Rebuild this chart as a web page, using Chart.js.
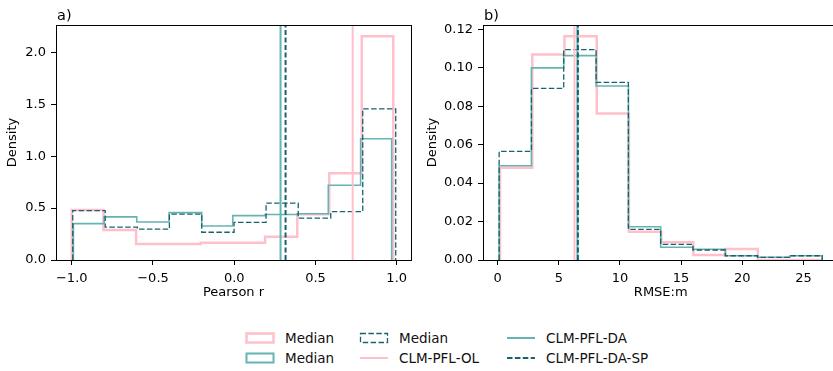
<!DOCTYPE html>
<html>
<head>
<meta charset="utf-8">
<script src="https://cdn.jsdelivr.net/npm/chart.js@4.4.0/dist/chart.umd.min.js"></script>
<style>
  html, body { margin: 0; padding: 0; background: #fff; overflow: hidden; }
  body { width: 833px; height: 371px; position: relative; font-family: "DejaVu Sans", sans-serif; }
  canvas { position: absolute; top: 0; }
  #chartA { left: 0; }
  #chartB { left: 420px; }
  .item { position: absolute; font-size: 13.5px; color: #111; line-height: 16px; white-space: nowrap; }
  .item svg { position: absolute; left: 0; top: 2px; }
  .item span { position: absolute; top: 0; left: 40px; }
</style>
</head>
<body>
<canvas id="chartA" width="420" height="300"></canvas>
<canvas id="chartB" width="420" height="300"></canvas>
<div id="legend"></div>
<script>
// panel a) Pearson r
const edgesOL_a = [-1.0, -0.805, -0.604, -0.405, -0.206, -0.009, 0.19, 0.388, 0.585, 0.785, 0.979];
const densOL_a = [0.481, 0.289, 0.153, 0.153, 0.166, 0.166, 0.225, 0.44, 0.836, 2.155];
const edgesDA_a = [-0.99, -0.801, -0.6, -0.401, -0.2, -0.009, 0.19, 0.388, 0.579, 0.778, 0.969];
const densDA_a = [0.35, 0.415, 0.366, 0.456, 0.327, 0.427, 0.438, 0.446, 0.72, 1.167];
const edgesSP_a = [-0.994, -0.794, -0.596, -0.399, -0.2, -0.001, 0.196, 0.394, 0.594, 0.791, 0.994];
const densSP_a = [0.476, 0.316, 0.297, 0.442, 0.267, 0.363, 0.547, 0.403, 0.465, 1.456];
const mediansA = [0.729, 0.285, 0.316];   // OL, DA, DA-SP
const xTicksA = [-1.0, -0.5, 0.0, 0.5, 1.0];
const yTicksA = [0.0, 0.5, 1.0, 1.5, 2.0];

// panel b) RMSE
const edgesOL_b = [0.19, 2.83, 5.46, 8.1, 10.73, 13.37, 16.0, 18.64, 21.27, 23.91, 26.55];
const densOL_b = [0.048, 0.1068, 0.1164, 0.0762, 0.0147, 0.0092, 0.0026, 0.0057, 0, 0];
const edgesDA_b = [0.12, 2.76, 5.4, 8.05, 10.69, 13.33, 15.97, 18.61, 21.26, 23.9, 26.54];
const densDA_b = [0.049, 0.0999, 0.1063, 0.0905, 0.0173, 0.0066, 0.0056, 0.0022, 0.0014, 0.0022];
const edgesSP_b = [0.12, 2.76, 5.4, 8.05, 10.69, 13.33, 15.97, 18.61, 21.26, 23.9, 26.54];
const densSP_b = [0.0565, 0.0892, 0.1094, 0.0924, 0.0159, 0.0081, 0.0052, 0.0022, 0.0014, 0.0022];
const mediansB = [6.28, 6.52, 6.56];
const xTicksB = [0, 5, 10, 15, 20, 25];
const yTicksB = [0.00, 0.02, 0.04, 0.06, 0.08, 0.10, 0.12];

const seriesNames = ['CLM-PFL-OL', 'CLM-PFL-DA', 'CLM-PFL-DA-SP'];
const colOL = '#ffc0cb';
const colDA = '#66b3b3';
const colSP = '#18636d';
const dashSP = [5.5, 2.4];
const font = { family: 'DejaVu Sans', size: 13 };

const stepPoints = (edges, dens) => {
    const pts = [{ x: edges[0], y: 0 }];
    dens.forEach((d, i) => {
        pts.push({ x: edges[i], y: d });
        pts.push({ x: edges[i + 1], y: d });
    });
    pts.push({ x: edges[edges.length - 1], y: 0 });
    return pts;
};

// box round the plot plus the "a)" / "b)" label
const framePlugin = {
    id: 'frame',
    afterDraw(chart, args, opts) {
        const { ctx, chartArea: a } = chart;
        ctx.save();
        ctx.strokeStyle = '#000';
        ctx.lineWidth = 1;
        ctx.strokeRect(Math.round(a.left) + 0.5, Math.round(a.top) + 0.5,
            Math.round(a.right - a.left), Math.round(a.bottom - a.top));
        ctx.fillStyle = '#000';
        ctx.font = '14.5px "DejaVu Sans"';
        ctx.textBaseline = 'alphabetic';
        ctx.fillText(opts.label, a.left + 1, 20);
        ctx.restore();
    }
};

const histSet = (pts, color, width, dash, order) => ({
    data: pts, borderColor: color, borderWidth: width, borderDash: dash || [],
    pointRadius: 0, fill: false, tension: 0, order: order,
    borderJoinStyle: 'miter', borderCapStyle: 'butt'
});

const renderPanel = (id, cfg) => {
    const ctx = document.getElementById(id).getContext('2d');
    const vline = (m, color, dash, order) =>
        histSet([{ x: m, y: 0 }, { x: m, y: cfg.yMax }], color, 2, dash, order);
    return new Chart(ctx, {
        type: 'line',
        data: {
            datasets: [
                histSet(stepPoints(cfg.eOL, cfg.dOL), colOL, 2.5, null, 6),
                histSet(stepPoints(cfg.eDA, cfg.dDA), colDA, 1.6, null, 5),
                histSet(stepPoints(cfg.eSP, cfg.dSP), colSP, 1.3, dashSP, 4),
                vline(cfg.med[0], colOL, null, 3),
                vline(cfg.med[1], colDA, null, 2),
                vline(cfg.med[2], colSP, [5, 2.5], 1)
            ]
        },
        options: {
            responsive: false,
            animation: false,
            layout: { padding: { left: 0, top: 25, right: cfg.padRight, bottom: 0 } },
            plugins: {
                legend: { display: false },
                tooltip: { enabled: false },
                frame: { label: cfg.label }
            },
            scales: {
                x: {
                    type: 'linear', min: cfg.xMin, max: cfg.xMax,
                    afterBuildTicks: s => { s.ticks = cfg.xTicks.map(v => ({ value: v })); },
                    afterFit: s => { s.height = 40; },
                    grid: { drawOnChartArea: false, drawTicks: true, tickLength: 5, color: '#000' },
                    border: { display: false },
                    ticks: { font, color: '#000', padding: 6, maxRotation: 0, autoSkip: false,
                        callback: v => cfg.fmtX(v) },
                    title: { display: true, text: cfg.xTitle, font, color: '#000', padding: { top: 0, bottom: 0 } }
                },
                y: {
                    type: 'linear', min: 0, max: cfg.yMax,
                    afterBuildTicks: s => { s.ticks = cfg.yTicks.map(v => ({ value: v })); },
                    afterFit: s => { s.width = cfg.yWidth; },
                    grid: { drawOnChartArea: false, drawTicks: true, tickLength: 5, color: '#000' },
                    border: { display: false },
                    ticks: { font, color: '#000', padding: 5, autoSkip: false,
                        callback: v => cfg.fmtY(v) },
                    title: { display: true, text: 'Density', font, color: '#000', padding: { top: 5, bottom: 0 } }
                }
            }
        },
        plugins: [framePlugin]
    });
};

const minus = s => s.replace('-', '\u2212');

renderPanel('chartA', {
    label: 'a)', eOL: edgesOL_a, dOL: densOL_a, eDA: edgesDA_a, dDA: densDA_a,
    eSP: edgesSP_a, dSP: densSP_a, med: mediansA,
    xMin: -1.097, xMax: 1.088, yMax: 2.263, xTicks: xTicksA, yTicks: yTicksA,
    fmtX: v => minus(v.toFixed(1)), fmtY: v => v.toFixed(1),
    xTitle: 'Pearson r', yWidth: 56, padRight: 9
});

renderPanel('chartB', {
    label: 'b)', eOL: edgesOL_b, dOL: densOL_b, eDA: edgesDA_b, dDA: densDA_b,
    eSP: edgesSP_b, dSP: densSP_b, med: mediansB,
    xMin: -1.2, xMax: 27.87, yMax: 0.1222, xTicks: xTicksB, yTicks: yTicksB,
    fmtX: v => String(v), fmtY: v => v.toFixed(2),
    xTitle: 'RMSE:m', yWidth: 63, padRight: 1.5
});

// legend, three columns filled top to bottom like matplotlib
const swatch = kind => {
    if (kind === 'boxOL') return `<svg width="30" height="12"><rect x="1.5" y="1.5" width="27" height="9" fill="none" stroke="${colOL}" stroke-width="2.5"/></svg>`;
    if (kind === 'boxDA') return `<svg width="30" height="12"><rect x="1.5" y="1.5" width="27" height="9" fill="none" stroke="${colDA}" stroke-width="2"/></svg>`;
    if (kind === 'boxSP') return `<svg width="30" height="12"><rect x="1.5" y="1.5" width="27" height="9" fill="none" stroke="${colSP}" stroke-width="1.3" stroke-dasharray="5.5 2.4"/></svg>`;
    if (kind === 'lineOL') return `<svg width="30" height="12"><line x1="1" y1="6" x2="29" y2="6" stroke="${colOL}" stroke-width="2"/></svg>`;
    if (kind === 'lineDA') return `<svg width="30" height="12"><line x1="1" y1="6" x2="29" y2="6" stroke="${colDA}" stroke-width="2"/></svg>`;
    return `<svg width="30" height="12"><line x1="1" y1="6" x2="29" y2="6" stroke="${colSP}" stroke-width="2" stroke-dasharray="5.5 2.4"/></svg>`;
};
const legendItems = [
    { kind: 'boxOL', text: 'Median', x: 245, y: 330 },
    { kind: 'boxDA', text: 'Median', x: 245, y: 350 },
    { kind: 'boxSP', text: 'Median', x: 359, y: 330 },
    { kind: 'lineOL', text: seriesNames[0], x: 359, y: 350 },
    { kind: 'lineDA', text: seriesNames[1], x: 506, y: 330 },
    { kind: 'lineSP', text: seriesNames[2], x: 506, y: 350 }
];
const legend = document.getElementById('legend');
legendItems.forEach(it => {
    const d = document.createElement('div');
    d.className = 'item';
    d.style.left = it.x + 'px';
    d.style.top = it.y + 'px';
    d.innerHTML = swatch(it.kind) + `<span>${it.text}</span>`;
    legend.appendChild(d);
});
</script>
</body>
</html>
